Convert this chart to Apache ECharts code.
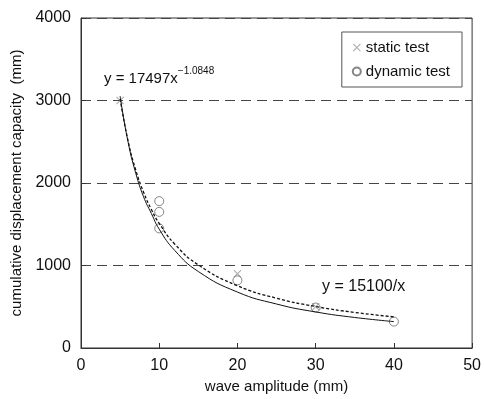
<!DOCTYPE html>
<html>
<head>
<meta charset="utf-8">
<script src="https://cdn.jsdelivr.net/npm/echarts@6/dist/echarts.min.js"></script>
<style>
  html, body { margin: 0; padding: 0; background: #fff; }
  #main { width: 484px; height: 399px; }
</style>
</head>
<body>
<div id="main"></div>
<script>
// values
var powerFitX = [5, 6, 7, 8, 9, 10, 12, 15, 20, 25, 30, 35, 40];
var powerFitY = [3053, 2506, 2119, 1833, 1630, 1440, 1181, 927, 678, 533, 437, 370, 320];
var inverseFitX = [5, 6, 7, 8, 9, 10, 12, 15, 20, 25, 30, 35, 40];
var inverseFitY = [3020, 2517, 2157, 1888, 1678, 1510, 1258, 1007, 755, 604, 503, 431, 378];
var staticX = [5, 20, 30];
var staticY = [3000, 900, 500];
var dynamicX = [10, 10, 10, 20, 30, 40];
var dynamicY = [1780, 1650, 1450, 820, 490, 320];

function pairs(xs, ys) {
  return xs.map(function (x, i) { return [x, ys[i]]; });
}

var font = 'Liberation Sans, Arial, sans-serif';
var crossPath = 'path://M0,1L1,0L5,4L9,0L10,1L6,5L10,9L9,10L5,6L1,10L0,9L4,5Z';

var chart = echarts.init(document.getElementById('main'));
chart.setOption({
  animation: false,
  textStyle: { fontFamily: font },
  grid: {
    left: 81, right: 8, top: 18, bottom: 51,
    show: true, borderColor: '#333', borderWidth: 1
  },
  legend: {
    orient: 'vertical',
    right: 22, top: 32,
    borderColor: '#555', borderWidth: 1,
    padding: [8, 12, 8, 10],
    itemGap: 9,
    itemWidth: 8, itemHeight: 8,
    textStyle: { fontSize: 15, color: '#111', fontFamily: font },
    data: ['static test', 'dynamic test']
  },
  xAxis: {
    type: 'value', min: 0, max: 50, interval: 10,
    name: 'wave amplitude (mm)', nameLocation: 'middle', nameGap: 30,
    nameTextStyle: { fontSize: 15, color: '#111' },
    axisLine: { lineStyle: { color: '#333' } },
    axisTick: { inside: true, length: 5, lineStyle: { color: '#333' } },
    axisLabel: { fontSize: 16, color: '#111', margin: 10 },
    splitLine: { show: false }
  },
  yAxis: {
    type: 'value', min: 0, max: 4000, interval: 1000,
    name: 'cumulative displacement capacity  (mm)', nameLocation: 'middle', nameGap: 55,
    nameTextStyle: { fontSize: 15, color: '#111' },
    axisLine: { show: true, lineStyle: { color: '#333' } },
    axisTick: { show: true, inside: true, length: 5, lineStyle: { color: '#333' } },
    axisLabel: { fontSize: 16, color: '#111', margin: 10, formatter: function (v) { return String(v); } },
    splitLine: { show: true, lineStyle: { color: '#444', type: [10, 6], width: 1 } }
  },
  graphic: [
    {
      type: 'text', left: 104, top: 66,
      style: {
        text: '{b|y = 17497x}{s|−1.0848}',
        rich: {
          b: { fontSize: 15, fontFamily: font, fill: '#111', verticalAlign: 'bottom' },
          s: { fontSize: 10, fontFamily: font, fill: '#111', padding: [0, 0, 10, 0] }
        }
      }
    },
    {
      type: 'text', left: 322, top: 279,
      style: { text: 'y = 15100/x', fontSize: 16, fontFamily: font, fill: '#111' }
    }
  ],
  series: [
    {
      name: 'power fit', type: 'line', smooth: true, showSymbol: false,
      lineStyle: { color: '#111', width: 1 },
      data: pairs(powerFitX, powerFitY)
    },
    {
      name: 'inverse fit', type: 'line', smooth: true, showSymbol: false,
      lineStyle: { color: '#111', width: 1.3, type: [3, 2] },
      data: pairs(inverseFitX, inverseFitY)
    },
    {
      name: 'static test', type: 'scatter',
      symbol: crossPath, symbolSize: 8,
      itemStyle: { color: '#999' },
      data: pairs(staticX, staticY)
    },
    {
      name: 'dynamic test', type: 'scatter',
      symbol: 'circle', symbolSize: 9,
      itemStyle: { color: 'rgba(255,255,255,0)', borderColor: '#666', borderWidth: 1 },
      data: pairs(dynamicX, dynamicY)
    }
  ]
});
</script>
</body>
</html>
